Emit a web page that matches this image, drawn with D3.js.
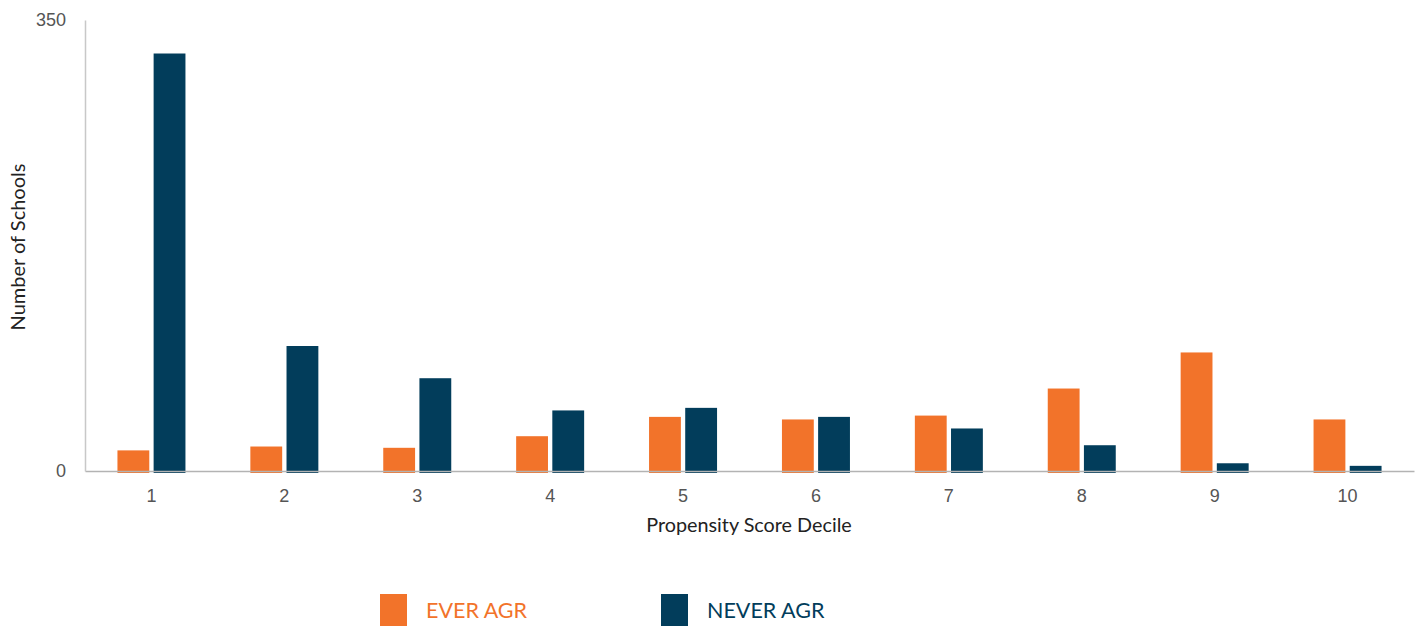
<!DOCTYPE html>
<html>
<head>
<meta charset="utf-8">
<script src="https://cdn.jsdelivr.net/npm/d3@7"></script>
<style>
  html, body { margin: 0; padding: 0; background: #fff; }
  svg { display: block; font-family: Lato, "Open Sans", sans-serif; }
</style>
</head>
<body>
<svg id="chart" width="1422" height="626"></svg>
<script>
// Number of schools per propensity score decile
const deciles = ["1", "2", "3", "4", "5", "6", "7", "8", "9", "10"];
const everAGR  = [16, 19, 18, 27, 42, 40, 43, 64, 92, 40];
const neverAGR = [324, 97, 72, 47, 49, 42, 33, 20, 6, 4];
const seriesNames = ["EVER AGR", "NEVER AGR"];
const seriesColors = ["#F2732A", "#023D5B"];
const yTicks = [0, 350];

const svg = d3.select("#chart");
const margin = { left: 85, right: 8, top: 20, bottom: 155 };
const W = 1422, H = 626;
const plotBottom = H - margin.bottom; // 471

const x = d3.scaleBand().domain(deciles).range([margin.left, W - margin.right]).padding(0);
const inner = d3.scaleBand().domain(seriesNames).range([0, 68]).paddingInner(0.12);
const y = d3.scaleLinear().domain([0, 350]).range([plotBottom, margin.top]);

const rows = deciles.map((d, i) => ({ decile: d, values: [everAGR[i], neverAGR[i]] }));

// bars
const groups = svg.append("g").selectAll("g").data(rows).join("g")
  .attr("transform", d => `translate(${x(d.decile) + x.bandwidth() / 2 - 34},0)`);
groups.selectAll("rect")
  .data(d => d.values.map((v, j) => ({ name: seriesNames[j], value: v, color: seriesColors[j] })))
  .join("rect")
  .attr("x", d => inner(d.name))
  .attr("width", inner.bandwidth())
  .attr("y", d => y(d.value))
  .attr("height", d => y(0) - y(d.value) + 2)
  .attr("fill", d => d.color);

// x axis
const xAxis = svg.append("g").attr("transform", `translate(0,${plotBottom})`)
  .call(d3.axisBottom(x).tickSize(0).tickPadding(18));
xAxis.select(".domain").attr("stroke", "#b3b3b3").attr("stroke-width", 1.5);
xAxis.selectAll("text").attr("font-size", 18).attr("fill", "#555");

// y axis
const yAxis = svg.append("g").attr("transform", `translate(${margin.left},0)`)
  .call(d3.axisLeft(y).tickValues(yTicks).tickSize(0).tickPadding(19));
yAxis.select(".domain").attr("stroke", "#c8c8c8").attr("stroke-width", 1.5);
yAxis.selectAll("text").attr("font-size", 18).attr("fill", "#555");

// axis titles
svg.append("text")
  .attr("x", 749)
  .attr("y", 532)
  .attr("text-anchor", "middle")
  .attr("font-size", 19.8)
  .attr("fill", "#222")
  .text("Propensity Score Decile");

svg.append("text")
  .attr("transform", `translate(25,247) rotate(-90)`)
  .attr("text-anchor", "middle")
  .attr("font-size", 20)
  .attr("fill", "#222")
  .text("Number of Schools");

// legend
const legendX = [380, 661];
const legend = svg.append("g").selectAll("g").data(seriesNames).join("g")
  .attr("transform", (d, i) => `translate(${legendX[i]},594)`);
legend.append("rect").attr("width", 27).attr("height", 32)
  .attr("fill", (d, i) => seriesColors[i]);
legend.append("text").attr("x", 46).attr("y", 24)
  .attr("font-size", 21.5)
  .attr("fill", (d, i) => seriesColors[i])
  .text(d => d);
</script>
</body>
</html>
